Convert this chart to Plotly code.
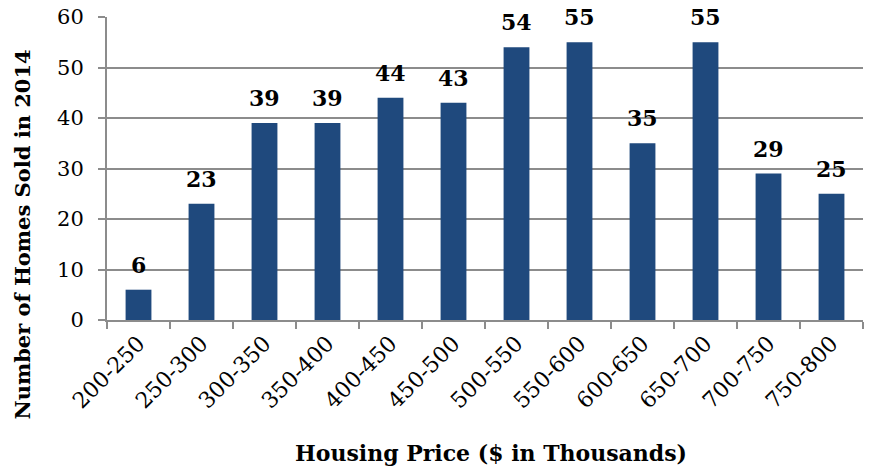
import plotly.graph_objects as go

categories = ["200-250", "250-300", "300-350", "350-400", "400-450", "450-500",
              "500-550", "550-600", "600-650", "650-700", "700-750", "750-800"]
homes_sold = [6, 23, 39, 39, 44, 43, 54, 55, 35, 55, 29, 25]

FONT = "DejaVu Serif"

fig = go.Figure(go.Bar(
    x=categories, y=homes_sold,
    marker=dict(color="#1F497D", line=dict(width=0)),
    cliponaxis=False,
))

for c, v in zip(categories, homes_sold):
    fig.add_annotation(x=c, y=v, text=f"<b>{v}</b>", showarrow=False,
                       yanchor="middle", yshift=25,
                       font=dict(family=FONT, size=22, color="black"))

fig.add_annotation(xref="paper", yref="paper", x=0.5, y=0, xshift=6, yshift=-133,
                   text="<b>Housing Price ($ in Thousands)</b>", showarrow=False,
                   xanchor="center", yanchor="middle",
                   font=dict(family=FONT, size=22, color="black"))
fig.add_annotation(xref="paper", yref="paper", x=0, xshift=-85, y=0.5, yshift=-66,
                   text="<b>Number of Homes Sold in 2014</b>", showarrow=False,
                   textangle=-90, xanchor="center", yanchor="middle",
                   font=dict(family=FONT, size=21, color="black"))

fig.update_layout(
    width=869, height=469,
    margin=dict(l=107, r=6, t=17, b=149),
    paper_bgcolor="white", plot_bgcolor="white",
    bargap=0.59,
    showlegend=False,
    font=dict(family=FONT, color="black"),
    xaxis=dict(
        type="category", automargin=False,
        tickangle=-45,
        tickfont=dict(family=FONT, size=22),
        showline=True, linecolor="#8c8c8c", linewidth=2,
        ticks="outside", ticklen=7, tickcolor="#8c8c8c", tickwidth=2,
        tickson="boundaries",
        showgrid=False,
    ),
    yaxis=dict(
        range=[0, 60], dtick=10, automargin=False,
        tickfont=dict(family=FONT, size=21),
        ticklabelstandoff=10,
        showline=True, linecolor="#8c8c8c", linewidth=2,
        ticks="outside", ticklen=7, tickcolor="#8c8c8c", tickwidth=2,
        showgrid=True, gridcolor="#8c8c8c", gridwidth=2,
        zeroline=False,
    ),
)

fig.write_html("out.html",
               config={"displayModeBar": False},
               post_script="document.body.style.margin='0';document.body.style.padding='0';")
